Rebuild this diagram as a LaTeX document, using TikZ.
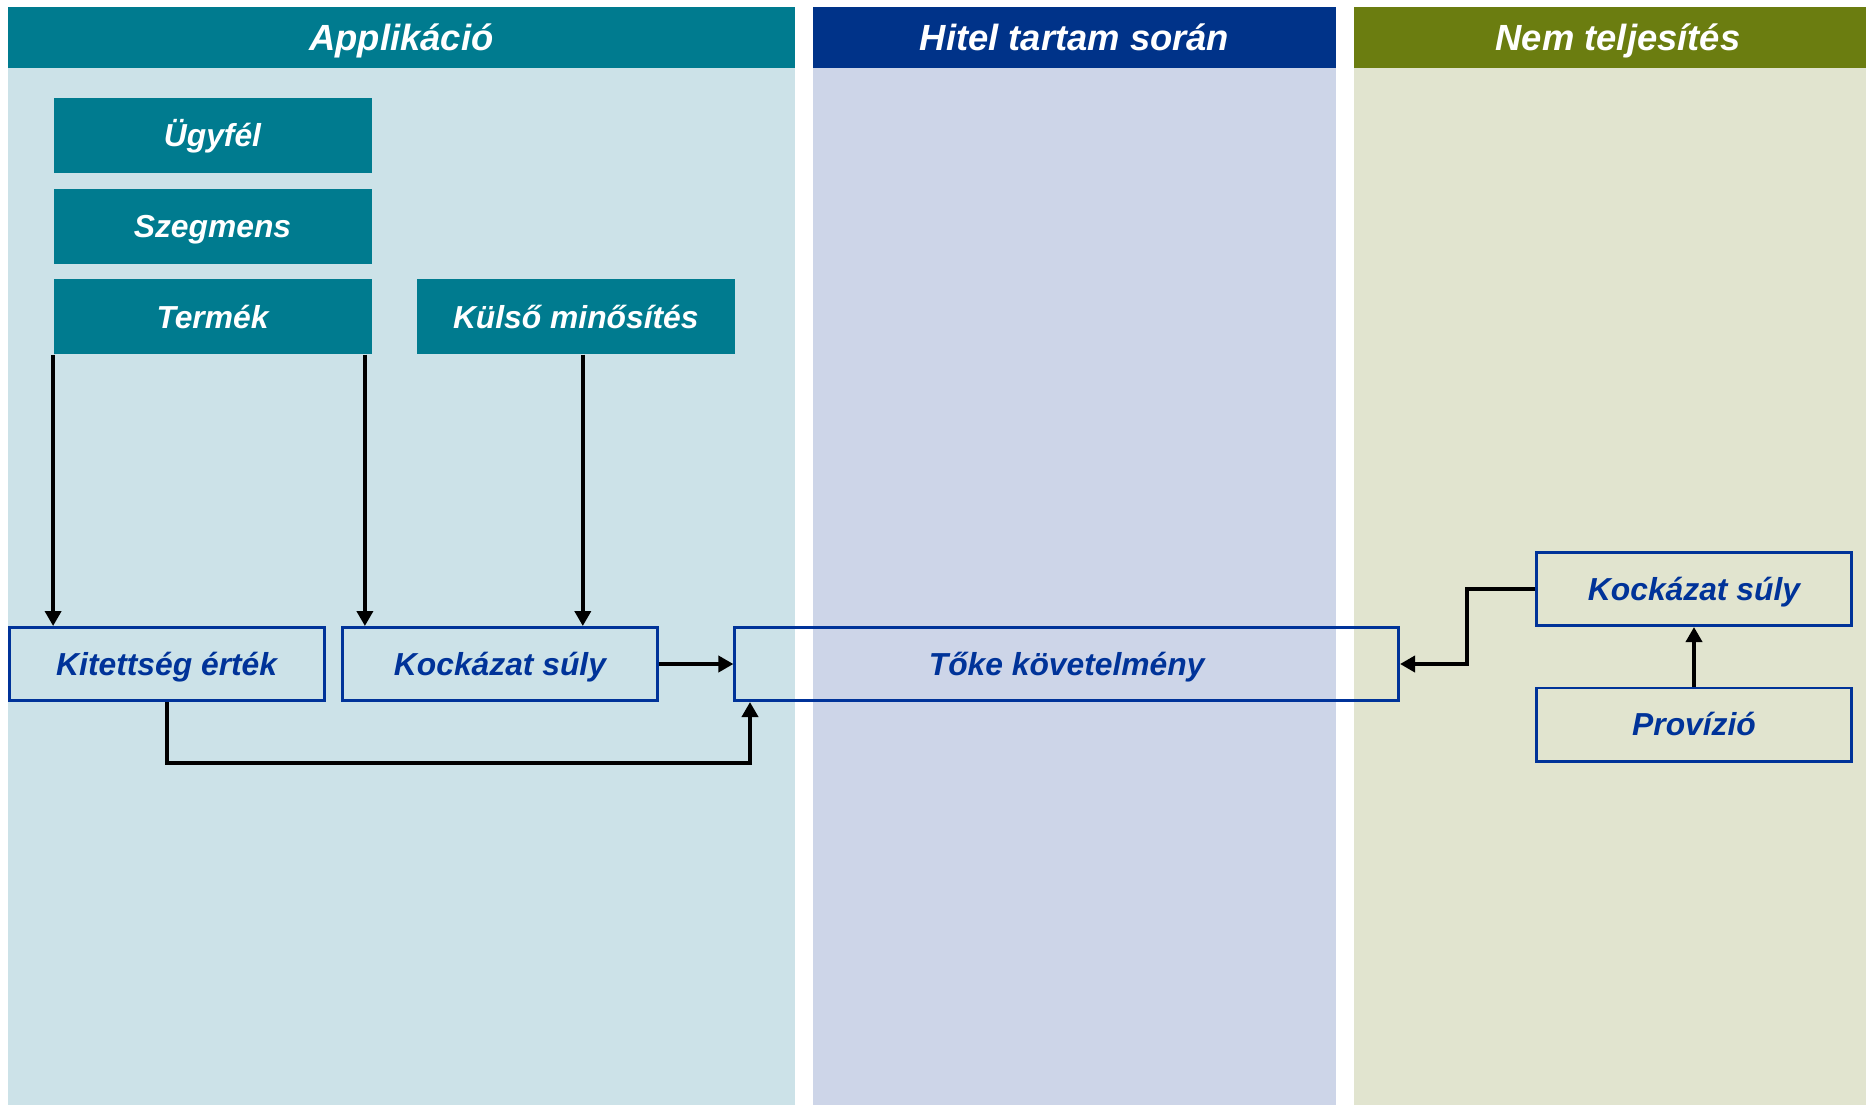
\documentclass[tikz,border=0pt]{standalone}
\usepackage{fontspec}
\setmainfont{Liberation Sans}
\usepackage{xcolor}
\usepackage{tikz}
\usetikzlibrary{arrows.meta,positioning,calc}
\definecolor{tkteal}{HTML}{007B8F}
\definecolor{tktealvil}{HTML}{CCE2E8}
\definecolor{tkkek}{HTML}{003389}
\definecolor{tkkekvil}{HTML}{CDD5E8}
\definecolor{tkoliva}{HTML}{6B7D10}
\definecolor{tkolivavil}{HTML}{E1E4CF}
\definecolor{tkkeret}{HTML}{003399}

\begin{document}
\begin{tikzpicture}[x=0.5pt,y=-0.5pt,
  every node/.style={font=\fontsize{15.9}{19}\selectfont\bfseries\itshape,text height=11.4pt,text depth=0pt},
  fejlec/.style={text=white,font=\fontsize{18.2}{22}\selectfont\bfseries\itshape,text height=13pt},
  tele/.style={fill=tkteal,text=white,minimum width=159pt,minimum height=37.5pt,inner sep=0pt},
  keret/.style={draw=tkkeret,line width=1.4pt,text=tkkeret,minimum width=157.6pt,minimum height=36.6pt,inner sep=0pt},
  nyil/.style={line width=1.85pt,-{Triangle[length=7.5pt,width=8pt]}}]
  \useasboundingbox (0,0) rectangle (1866,1105);
  \fill[white] (0,0) rectangle (1866,1105);
  % oszlopok
  \fill[tktealvil] (8,68) rectangle (795,1105);
  \fill[tkteal] (8,7) rectangle (795,68); \node[fejlec] (happ) at (401.5,37.5){Applikáció};
  \fill[tkkekvil] (813,68) rectangle (1336,1105);
  \fill[tkkek] (813,7) rectangle (1336,68); \node[fejlec] (hhitel) at (1074.5,37.5){Hitel tartam során};
  \fill[tkolivavil] (1354,68) rectangle (1866,1105);
  \fill[tkoliva] (1354,7) rectangle (1866,68); \node[fejlec] (hnem) at (1618,37.5){Nem teljesítés};
  % bemenetek
  \node[tele] (ugyfel) at (212.5,135){Ügyfél};
  \node[tele] (szegmens) at (212.5,226){Szegmens};
  \node[tele] (termek) at (212.5,316.7){Termék};
  \node[tele] (kulso) at (575.8,316.7){Külső minősítés};
  % kimenetek
  \node[keret] (kitettseg) at (166.7,664){Kitettség érték};
  \node[keret] (kockazat) at (500,664){Kockázat súly};
  \node[keret,minimum width=331.9pt] (toke) at (1066.7,664){Tőke követelmény};
  \node[keret] (kockazatnt) at (1694,589){Kockázat súly};
  \node[keret] (provizio) at (1694,724.5){Provízió};
  % nyilak
  \draw[nyil] (termek.south west) -- (termek.south west |- kitettseg.north);
  \draw[nyil] ($(termek.south east)+(-7,0)$) -- ($(termek.south east |- kockazat.north)+(-7,0)$);
  \draw[nyil] ($(kulso.south)+(7,0)$) -- ($(kulso.south |- kockazat.north)+(7,0)$);
  \draw[nyil] (kockazat.east) -- (toke.west);
  \draw[nyil] (kitettseg.south) -- ++(0,60.7) -| ($(toke.south west)+(16.6,0)$);
  \draw[nyil] (kockazatnt.west) -- ++(-67.7,0) |- (toke.east);
  \draw[nyil] (provizio.north) -- (kockazatnt.south);
\end{tikzpicture}
\end{document}
